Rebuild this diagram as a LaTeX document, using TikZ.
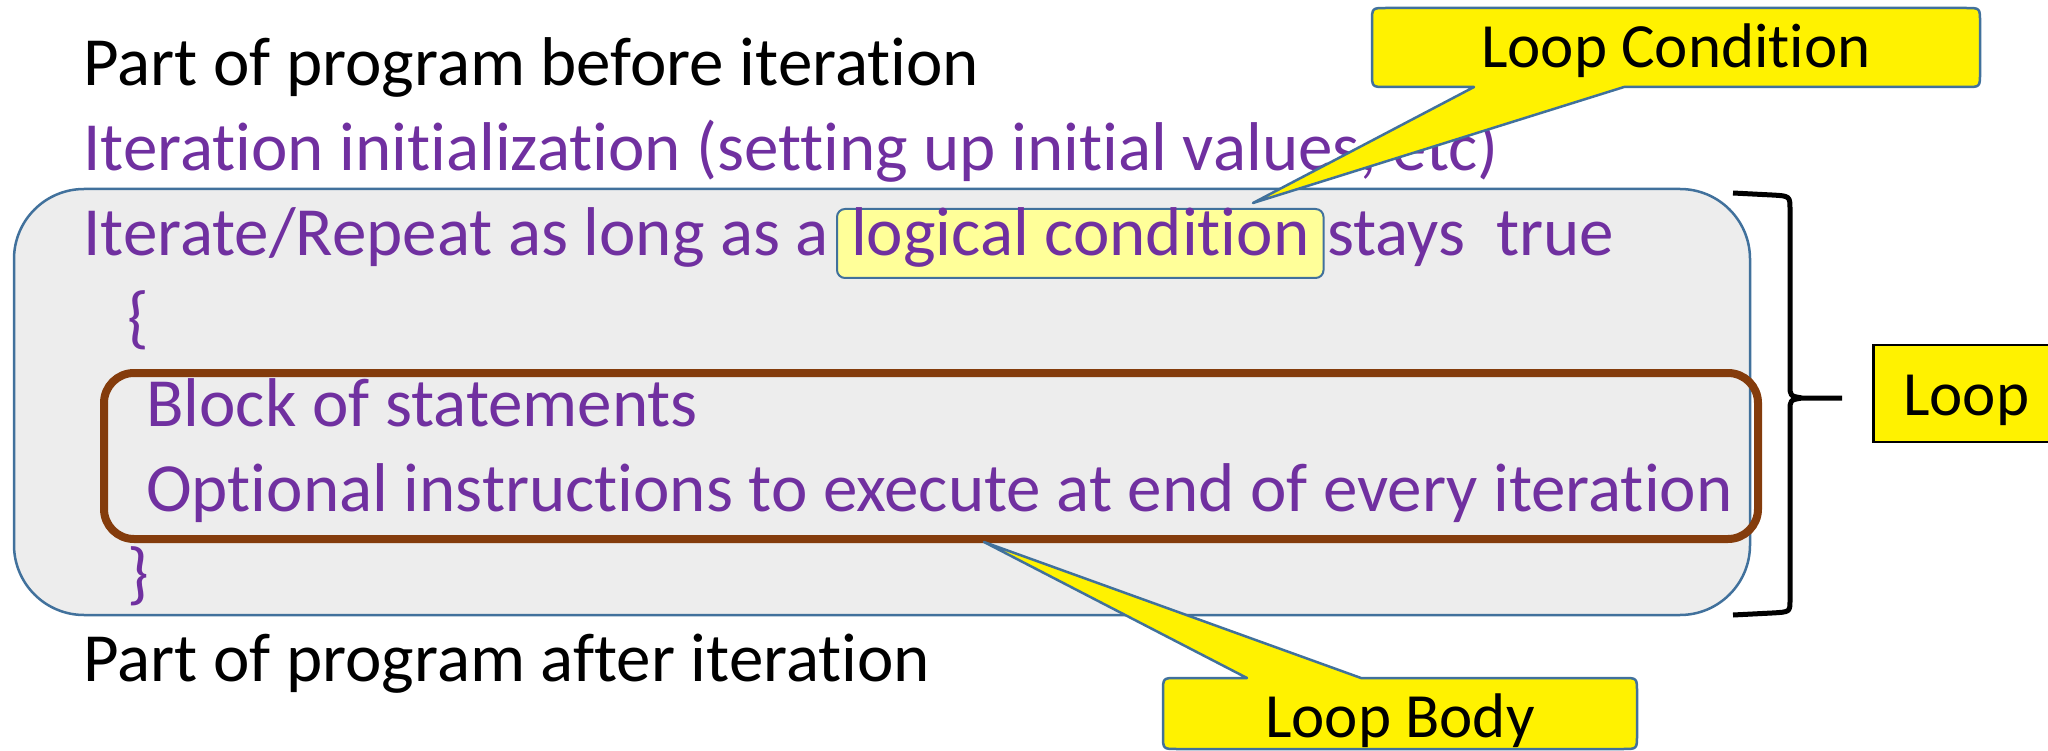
\documentclass[tikz,border=0pt]{standalone}
\usepackage{fontspec}
\setmainfont{Carlito}[RawFeature={-liga;-clig}]
\usepackage{tikz}
\usetikzlibrary{calc}

\tikzset{
    plain/.style={anchor=base west, inner sep=0pt, font=\fontsize{69}{80}\selectfont},
    stmt/.style={plain, text=codepurple},
    hilite/.style={stmt, draw=edgeblue, line width=2pt, fill=softyellow, rounded corners=8pt,
        inner xsep=14pt, inner ysep=0pt, text height=47pt, text depth=22pt},
    callout/.style={draw=edgeblue, line width=2.5pt, fill=yellow, line join=round},
    tag/.style={anchor=base, inner sep=0pt, font=\fontsize{63}{75}\selectfont},
}

\begin{document}
\begin{tikzpicture}[x=1pt, y=-1pt]
    \definecolor{codepurple}{HTML}{7030A0}
    \definecolor{edgeblue}{HTML}{41719C}
    \definecolor{softyellow}{HTML}{FFFF99}
    \definecolor{bodybrown}{HTML}{843C0C}
    \definecolor{boxgray}{HTML}{EDEDED}
    \useasboundingbox (0,0) rectangle (2048,751);

    % loop area
    \draw[edgeblue, line width=2.5pt, fill=boxgray, rounded corners=70pt] (14,189) rectangle (1750,615);
    % loop body
    \draw[bodybrown, line width=8pt, rounded corners=30pt] (104,373) rectangle (1758,539);

    % program lines
    \node[plain] (before) at (83,86) {Part of program before iteration};
    \node[stmt] (init) at (83,171) {Iteration initialization (setting up initial values, etc)};
    \node[stmt] (iter) at (83,256) {Iterate/Repeat as long as a};
    \node[hilite, anchor=base west] (cond) at (836,256) {logical condition};
    \node[stmt] (stays) at (1327,256) {stays\ \ true};
    \node[stmt] (open) at (127,341) {\{};
    \node[stmt] (block) at (146,426) {Block of statements};
    \node[stmt] (opt) at (146,511) {Optional instructions to execute at end of every iteration};
    \node[stmt] (close) at (127,596) {\}};
    \node[plain] (after) at (83,681) {Part of program after iteration};

    % right brace
    \draw[line width=5pt, line join=round] (1733,193) -- (1772,195) .. controls (1790,196) .. (1790,210)
        -- (1790,385) .. controls (1790,396) .. (1802,398) -- (1842,398)
        (1802,398) .. controls (1790,400) .. (1790,411)
        -- (1790,600) .. controls (1790,612) .. (1772,613) -- (1733,615);
    \node[plain, draw, line width=2.5pt, fill=yellow, inner xsep=30pt, inner ysep=0pt,
        text height=70pt, text depth=27pt, font=\fontsize{63}{75}\selectfont] (loop) at (1872,415) {Loop};

    % callouts
    \coordinate (condtip) at (1253,203);
    \coordinate (bodytip) at (984,542);
    \draw[callout] (1474,87) -- (1386,87) .. controls (1372,87) .. (1372,73) -- (1372,22)
        .. controls (1372,8) .. (1386,8) -- (1966,8) .. controls (1980,8) .. (1980,22)
        -- (1980,73) .. controls (1980,87) .. (1966,87) -- (1624,87) -- (condtip) -- cycle;
    \node[tag] (condlabel) at (1676,68) {Loop Condition};
    \draw[callout] (1247,678) -- (bodytip) -- (1361,678) -- (1623,678) .. controls (1637,678) .. (1637,692)
        -- (1637,735) .. controls (1637,749) .. (1623,749) -- (1177,749) .. controls (1163,749) .. (1163,735)
        -- (1163,692) .. controls (1163,678) .. (1177,678) -- cycle;
    \node[tag] (bodylabel) at (1400,737) {Loop Body};
\end{tikzpicture}
\end{document}
